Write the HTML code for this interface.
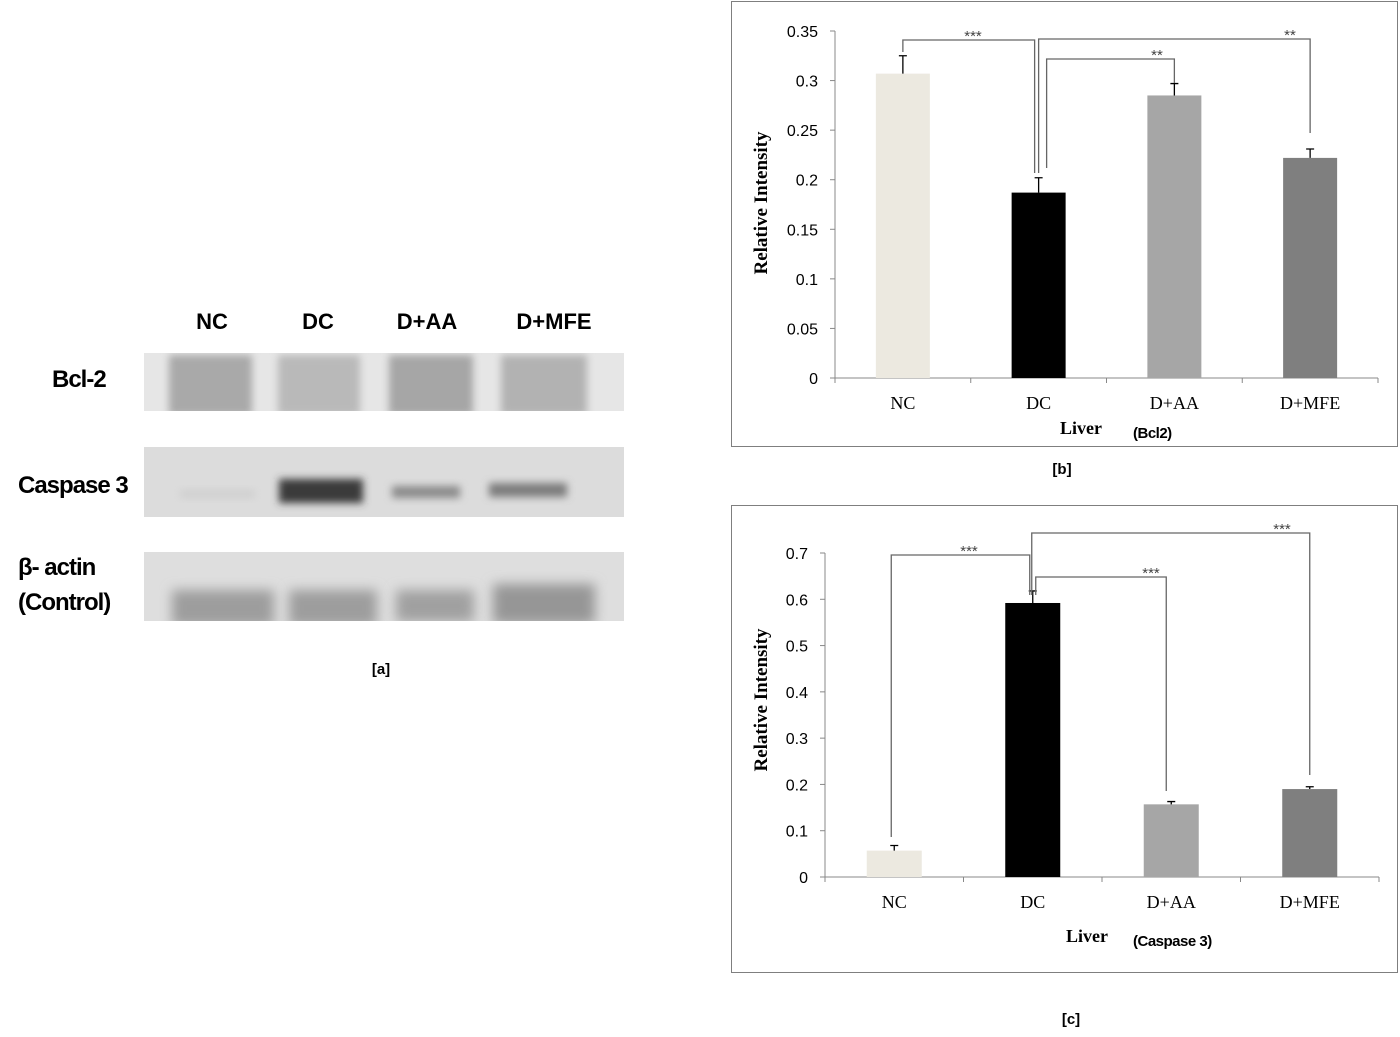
<!DOCTYPE html>
<html><head><meta charset="utf-8">
<style>
html,body{margin:0;padding:0;background:#fff;width:1400px;height:1037px;overflow:hidden}
svg{display:block}
.cal{font-family:"Liberation Sans",sans-serif;font-weight:bold}
</style></head>
<body>
<svg id="fig" width="1400" height="1037" viewBox="0 0 1400 1037">
<defs>
<filter id="blur2" x="-20%" y="-60%" width="140%" height="220%"><feGaussianBlur stdDeviation="4"/></filter>
<filter id="blur4" x="-20%" y="-50%" width="140%" height="200%"><feGaussianBlur stdDeviation="6"/></filter>
</defs>
<g>
<g class="cal" font-size="22" text-anchor="middle" fill="#000">
<text x="212" y="329">NC</text>
<text x="318" y="329">DC</text>
<text x="427" y="329">D+AA</text>
<text x="554" y="329">D+MFE</text>
</g>
<g class="cal" font-size="24" fill="#000" letter-spacing="-1">
<text x="52" y="387">Bcl-2</text>
<text x="18" y="493">Caspase 3</text>
<text x="18" y="575">β- actin</text>
<text x="18" y="610">(Control)</text>
</g>
<g>
<rect x="144" y="353" width="480" height="58" fill="#e6e6e6"/>
<svg x="144" y="353" width="480" height="58" overflow="hidden">
<rect x="25" y="2" width="83" height="60" fill="#a9a9a9" filter="url(#blur2)"/>
<rect x="134" y="2" width="82" height="60" fill="#b9b9b9" filter="url(#blur2)"/>
<rect x="245" y="2" width="84" height="60" fill="#a6a6a6" filter="url(#blur2)"/>
<rect x="357" y="2" width="86" height="60" fill="#b2b2b2" filter="url(#blur2)"/>
</svg>
</g>
<g>
<rect x="144" y="447" width="480" height="70" fill="#dcdcdc"/>
<rect x="180" y="490" width="75" height="8" fill="#cfcfcf" filter="url(#blur2)"/>
<rect x="279" y="479" width="84" height="24" fill="#3a3a3a" filter="url(#blur2)"/>
<rect x="392" y="486" width="68" height="12" fill="#8a8a8a" filter="url(#blur2)"/>
<rect x="489" y="483" width="78" height="14" fill="#7c7c7c" filter="url(#blur2)"/>
</g>
<g>
<rect x="144" y="552" width="480" height="69" fill="#dedede"/>
<svg x="144" y="552" width="480" height="69" overflow="hidden">
<rect x="28" y="38" width="102" height="36" fill="#9d9d9d" filter="url(#blur4)"/>
<rect x="145" y="38" width="88" height="36" fill="#9d9d9d" filter="url(#blur4)"/>
<rect x="252" y="38" width="78" height="32" fill="#a0a0a0" filter="url(#blur4)"/>
<rect x="349" y="32" width="102" height="40" fill="#969696" filter="url(#blur4)"/>
</svg>
</g>
<text class="cal" x="381" y="674" font-size="15" text-anchor="middle">[a]</text>
</g>
<g id="chartB"></g>
<g id="chartC"></g>
</svg>
<script>
var categories = ["NC", "DC", "D+AA", "D+MFE"];
var bcl2Values = [0.307, 0.187, 0.285, 0.222];
var bcl2Errors = [0.018, 0.015, 0.012, 0.009];
var bcl2Ticks = ["0", "0.05", "0.1", "0.15", "0.2", "0.25", "0.3", "0.35"];
var casp3Values = [0.057, 0.592, 0.157, 0.190];
var casp3Errors = [0.011, 0.026, 0.006, 0.005];
var casp3Ticks = ["0", "0.1", "0.2", "0.3", "0.4", "0.5", "0.6", "0.7"];
var barColors = ["#ece9e0", "#000000", "#a6a6a6", "#7f7f7f"];
var NS = "http://www.w3.org/2000/svg";
function mk(parent, tag, attrs, text) {
  var e = document.createElementNS(NS, tag);
  for (var k in attrs) e.setAttribute(k, attrs[k]);
  if (text !== undefined) e.textContent = text;
  parent.appendChild(e);
  return e;
}
function drawChart(g, cfg, values, errors, ticks) {
  var fr = mk(g, "rect", {x: cfg.frame[0], y: cfg.frame[1], width: cfg.frame[2], height: cfg.frame[3], fill: "none", stroke: "#7f7f7f", "stroke-width": 1});
  
  
  var yMax = parseFloat(ticks[ticks.length - 1]);
  function ys(v) { return cfg.y0 - v / yMax * (cfg.y0 - cfg.yTop); }
  var band = (cfg.x1 - cfg.x0) / categories.length;
  function xc(i) { return cfg.x0 + band * (i + 0.5); }
  var ya = mk(g, "line", {x1: cfg.x0, y1: cfg.yTop, x2: cfg.x0, y2: cfg.y0, stroke: "#888", "stroke-width": 1});
  
  
  var xa = mk(g, "line", {x1: cfg.x0, y1: cfg.y0, x2: cfg.x1, y2: cfg.y0, stroke: "#888", "stroke-width": 1});
  
  
  for (var t = 0; t < ticks.length; t++) {
    var v = parseFloat(ticks[t]);
    mk(g, "line", {x1: cfg.x0 - 5, y1: ys(v), x2: cfg.x0, y2: ys(v), stroke: "#888"});
    var tl = mk(g, "text", {x: cfg.x0 - 17, y: ys(v) + 6, "font-size": 16, "text-anchor": "end", "font-family": "Liberation Sans, sans-serif", fill: "#000"}, ticks[t]);
    
    
  }
  for (var i = 0; i <= categories.length; i++) {
    mk(g, "line", {x1: cfg.x0 + band * i, y1: cfg.y0, x2: cfg.x0 + band * i, y2: cfg.y0 + 5, stroke: "#888"});
  }
  for (var i = 0; i < categories.length; i++) {
    var bw = cfg.barW;
    var r = mk(g, "rect", {x: xc(i) - bw / 2, y: ys(values[i]), width: bw, height: cfg.y0 - ys(values[i]), fill: barColors[i]});
    
    
    var top = ys(values[i] + errors[i]);
    var eb = mk(g, "path", {d: "M" + xc(i) + "," + ys(values[i]) + "V" + top + "M" + (xc(i) - 4) + "," + top + "H" + (xc(i) + 4), stroke: "#000", "stroke-width": 1.3, fill: "none"});
    
    
    var cl = mk(g, "text", {x: xc(i), y: cfg.y0 + 31, "font-size": 18, "text-anchor": "middle", "font-family": "Liberation Serif, serif", fill: "#000"}, categories[i]);
    
    
  }
  for (var b = 0; b < cfg.brackets.length; b++) {
    var br = cfg.brackets[b];
    var xa1 = xc(br.a) + br.da, xb1 = xc(br.b) + br.db;
    var p = mk(g, "path", {d: "M" + xa1 + "," + br.ya + "V" + br.yl + "H" + xb1 + "V" + br.yb, stroke: "#666", "stroke-width": 1.3, fill: "none"});
    
    
    var st = mk(g, "text", {x: br.sx, y: br.yl + 1, "font-size": 15, "text-anchor": "middle", "font-family": "Liberation Sans, sans-serif", fill: "#444"}, br.stars);
    
    
  }
  var yt = mk(g, "text", {x: 0, y: 0, transform: "translate(" + cfg.ylabX + "," + cfg.ylabY + ") rotate(-90)", "font-size": 19, "font-weight": "bold", "text-anchor": "middle", "font-family": "Liberation Serif, serif"}, "Relative Intensity");
  
  
  var xt = mk(g, "text", {x: cfg.liverX, y: cfg.liverY, "font-size": 18, "font-weight": "bold", "font-family": "Liberation Serif, serif"}, "Liver");
  
  
  var sub = mk(g, "text", {x: cfg.subX, y: cfg.liverY + 4, "font-size": 15, "font-weight": "bold", "font-family": "Liberation Sans Narrow, Liberation Sans, sans-serif", "letter-spacing": "-0.5"}, cfg.sub);
  
  
  var pl = mk(g, "text", {x: cfg.panelX, y: cfg.panelY, "font-size": 15, "font-weight": "bold", "text-anchor": "middle", "font-family": "Liberation Sans, sans-serif"}, cfg.panel);
  
  
}
drawChart(document.getElementById("chartB"), {
  frame: [731.5, 1.5, 666, 445], x0: 835, x1: 1378, y0: 378, yTop: 31, barW: 54,
  brackets: [
    {a: 0, b: 1, da: 0, db: -4, ya: 52, yl: 40, yb: 173, sx: 973, stars: "***"},
    {a: 1, b: 3, da: 0, db: 0, ya: 173, yl: 39, yb: 133, sx: 1290, stars: "**"},
    {a: 1, b: 2, da: 8, db: 0, ya: 168, yl: 59, yb: 83, sx: 1157, stars: "**"}
  ],
  ylabX: 767, ylabY: 203, liverX: 1060, liverY: 434, subX: 1133, sub: "(Bcl2)", panel: "[b]", panelX: 1062, panelY: 474
}, bcl2Values, bcl2Errors, bcl2Ticks);
drawChart(document.getElementById("chartC"), {
  frame: [731.5, 505.5, 666, 467], x0: 825, x1: 1379, y0: 877, yTop: 553, barW: 55,
  brackets: [
    {a: 0, b: 1, da: -3, db: -3, ya: 837, yl: 555, yb: 595, sx: 969, stars: "***"},
    {a: 1, b: 3, da: -1, db: 0, ya: 595, yl: 533, yb: 775, sx: 1282, stars: "***"},
    {a: 1, b: 2, da: 3, db: -5, ya: 595, yl: 577, yb: 791, sx: 1151, stars: "***"}
  ],
  ylabX: 767, ylabY: 700, liverX: 1066, liverY: 942, subX: 1133, sub: "(Caspase 3)", panel: "[c]", panelX: 1071, panelY: 1024
}, casp3Values, casp3Errors, casp3Ticks);
</script>
</body></html>
